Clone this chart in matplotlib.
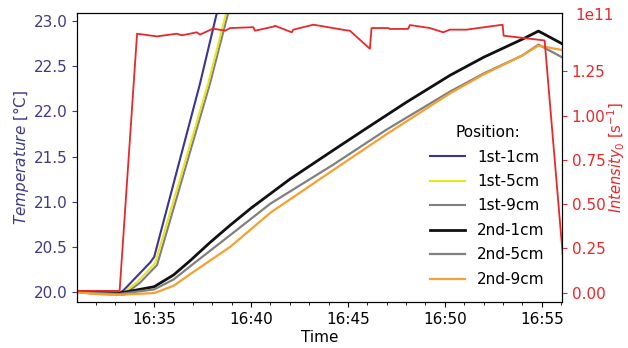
import matplotlib
matplotlib.use("Agg")
import matplotlib.pyplot as plt
import matplotlib.dates as mdates
import pandas as pd

# ---------------------------------------------------------- #
#  Data (time, value)                 #
# ---------------------------------------------------------- #
DAY = "2020-01-01 "

t_1st_1cm = ["16:31:00", "16:32:00", "16:33:13", "16:33:25", "16:34:48", "16:35:00",
             "16:37:22", "16:38:14", "16:39:00"]
v_1st_1cm = [20.01, 20.00, 19.99, 20.02, 20.33, 20.39, 22.31, 23.09, 23.80]

t_1st_5cm = ["16:31:00", "16:32:00", "16:33:20", "16:34:10", "16:35:03",
             "16:37:47", "16:38:43", "16:39:30"]
v_1st_5cm = [20.00, 19.99, 19.98, 20.12, 20.32, 22.31, 23.09, 23.80]

t_1st_9cm = ["16:31:00", "16:32:00", "16:33:25", "16:34:15", "16:35:09",
             "16:37:53", "16:38:49", "16:39:36"]
v_1st_9cm = [20.00, 19.98, 19.97, 20.10, 20.30, 22.31, 23.09, 23.80]

t_2nd_1cm = ["16:31:00", "16:32:00", "16:33:13", "16:34:00", "16:35:00", "16:36:00",
             "16:36:52", "16:37:53", "16:38:55", "16:40:00", "16:42:00", "16:44:14",
             "16:46:00", "16:48:00", "16:50:16", "16:52:00", "16:54:00", "16:54:50",
             "16:56:03"]
v_2nd_1cm = [20.01, 20.00, 19.99, 20.02, 20.06, 20.19, 20.35, 20.55, 20.74, 20.93,
             21.25, 21.57, 21.82, 22.10, 22.40, 22.60, 22.80, 22.89, 22.75]

t_2nd_5cm = ["16:31:00", "16:32:00", "16:33:13", "16:35:00", "16:36:00", "16:37:00",
             "16:38:55", "16:41:00", "16:44:14", "16:47:00", "16:50:16", "16:52:00",
             "16:54:00", "16:54:50", "16:56:03"]
v_2nd_5cm = [20.00, 19.99, 19.98, 20.03, 20.14, 20.31, 20.63, 20.98, 21.41, 21.80,
             22.22, 22.42, 22.62, 22.74, 22.60]

t_2nd_9cm = ["16:31:00", "16:32:00", "16:33:13", "16:35:00", "16:36:00", "16:37:00",
             "16:38:55", "16:41:00", "16:44:14", "16:47:00", "16:50:16", "16:52:00",
             "16:54:00", "16:54:50", "16:56:03"]
v_2nd_9cm = [20.00, 19.98, 19.97, 19.99, 20.07, 20.22, 20.50, 20.88, 21.35, 21.75,
             22.20, 22.41, 22.62, 22.73, 22.68]

t_int = ["16:30:50", "16:33:13", "16:34:07", "16:35:08", "16:36:10", "16:36:26",
         "16:37:12", "16:37:22", "16:38:02", "16:38:40", "16:38:55", "16:40:07",
         "16:40:12", "16:41:09", "16:41:14", "16:42:06", "16:42:11", "16:43:13",
         "16:44:56", "16:45:06", "16:46:08", "16:46:13", "16:47:05", "16:47:10",
         "16:48:06", "16:48:12", "16:49:14", "16:49:55", "16:50:16", "16:51:07",
         "16:52:59", "16:53:02", "16:55:09", "16:56:15"]
v_int = [0.01, 0.01, 1.463, 1.448, 1.463, 1.454, 1.471, 1.458, 1.492, 1.480,
         1.495, 1.500, 1.480, 1.503, 1.508, 1.471, 1.486, 1.514, 1.482, 1.480,
         1.378, 1.495, 1.495, 1.490, 1.490, 1.512, 1.495, 1.471, 1.486, 1.486,
         1.514, 1.452, 1.425, 0.0]  # x 1e11

series = [
    ("1st-1cm", t_1st_1cm, v_1st_1cm, "#3b3494", 1.5),
    ("1st-5cm", t_1st_5cm, v_1st_5cm, "#e8e61c", 1.5),
    ("1st-9cm", t_1st_9cm, v_1st_9cm, "#7f7f7f", 1.5),
    ("2nd-1cm", t_2nd_1cm, v_2nd_1cm, "#111111", 2.0),
    ("2nd-5cm", t_2nd_5cm, v_2nd_5cm, "#808080", 1.6),
    ("2nd-9cm", t_2nd_9cm, v_2nd_9cm, "#f7a030", 1.6),
]

BLUE_TXT = "#3f3a86"
RED = "#e8282b"


def to_time(lst):
    return pd.to_datetime([DAY + s for s in lst])


def main():
    plt.rcParams["font.size"] = 11
    plt.rcParams["mathtext.fontset"] = "dejavusans"

    fig = plt.figure(figsize=(6.28, 3.48), dpi=100)
    ax = fig.add_axes([0.1226, 0.132, 0.7724, 0.8306])

    # plot 1st-9cm under 1st-5cm so the yellow stays on top
    order = [0, 2, 1, 3, 4, 5]
    handles = {}
    for i in order:
        name, t, v, col, lw = series[i]
        h, = ax.plot(to_time(t), v, color=col, lw=lw, label=name)
        handles[name] = h

    ax.set_ylim(19.89, 23.09)
    ax.set_yticks([20.0, 20.5, 21.0, 21.5, 22.0, 22.5, 23.0])
    ax.yaxis.set_major_formatter(matplotlib.ticker.FormatStrFormatter("%.1f"))
    ax.tick_params(axis="y", colors=BLUE_TXT)
    ax.set_ylabel(r"$\it{Temperature}$ [°C]", color=BLUE_TXT, labelpad=2)

    ax.set_xlim(pd.Timestamp(DAY + "16:31:01"), pd.Timestamp(DAY + "16:56:03"))
    ax.xaxis.set_major_locator(mdates.MinuteLocator(byminute=range(0, 60, 5)))
    ax.xaxis.set_minor_locator(mdates.MinuteLocator())
    ax.xaxis.set_major_formatter(mdates.DateFormatter("%H:%M"))
    ax.set_xlabel("Time", labelpad=2)

    ax2 = ax.twinx()
    ax2.plot(to_time(t_int), [v * 1e11 for v in v_int], color=RED, lw=1.3)
    ax2.set_ylim(-0.053e11, 1.58e11)
    ax2.set_yticks([0, 0.25e11, 0.5e11, 0.75e11, 1.0e11, 1.25e11])
    ax2.tick_params(axis="y", colors=RED)
    # offset sits level with the top spine, as in the original
    ax2.yaxis.get_offset_text().set_visible(False)
    ax2.text(1.027, 0.99, "1e11", transform=ax2.transAxes, color=RED,
             ha="left", va="center", fontsize=11)
    ax2.set_ylabel(r"$\it{Intensity}_0$ [s$^{-1}$]", color=RED, labelpad=0,
                   fontsize=10.5)

    names = [s[0] for s in series]
    ax.legend([handles[n] for n in names], names, title="Position:",
              loc="lower right", bbox_to_anchor=(0.993, 0.005),
              frameon=False, handlelength=2.3, labelspacing=0.62,
              fontsize=11, title_fontsize=11)

    fig.savefig("out.png", dpi=100)


if __name__ == "__main__":
    main()
